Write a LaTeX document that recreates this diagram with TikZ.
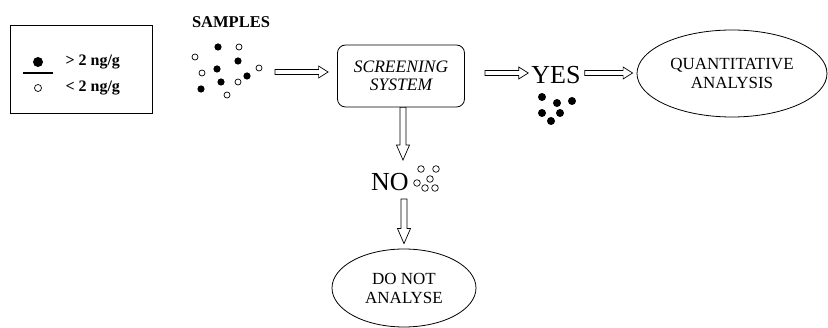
\documentclass[tikz,border=0pt]{standalone}
\usepackage{fontspec}
\setmainfont{Liberation Serif}
\usetikzlibrary{shapes,positioning,calc}

\tikzset{
  fatarrow/.style={draw, line width=0.7pt, fill=white},
  odot/.style={draw, line width=0.7pt},
  txt/.style={font=\fontsize{17}{19}\selectfont, align=center},
}

% hollow block arrows (right and down)
\newcommand{\rarrow}[2]{%
  \path[fatarrow] let \p1=(#1), \p2=(#2) in
    (\x1,\y1+2.5pt) -- (\x2-9.5pt,\y1+2.5pt) -- (\x2-9.5pt,\y1+6pt) -- (\x2,\y1)
    -- (\x2-9.5pt,\y1-6pt) -- (\x2-9.5pt,\y1-2.5pt) -- (\x1,\y1-2.5pt) -- cycle;}
\newcommand{\darrow}[2]{%
  \path[fatarrow] let \p1=(#1), \p2=(#2) in
    (\x1-3pt,\y1) -- (\x1-3pt,\y2+15pt) -- (\x1-6.5pt,\y2+15pt) -- (\x1,\y2)
    -- (\x1+6.5pt,\y2+15pt) -- (\x1+3pt,\y2+15pt) -- (\x1+3pt,\y1) -- cycle;}

\begin{document}
\begin{tikzpicture}[x=1pt,y=-1pt]
    \useasboundingbox (0,0) rectangle (828,328);

    % Legend
    \node[draw, line width=0.7pt, minimum width=142, minimum height=88] (legend) at (81,69) {};
    \fill (38,62) circle (5);
    \draw[line width=1.5pt] (23,73) -- (53,73);
    \draw[odot] (38,88) circle (3.5);
    \node[anchor=west, font=\bfseries\fontsize{16}{18}\selectfont] (above) at (62,62) {> 2 ng/g};
    \node[anchor=west, font=\bfseries\fontsize{16}{18}\selectfont] (below) at (62,88) {< 2 ng/g};

    % Samples
    \node[font=\bfseries\fontsize{16.5}{18}\selectfont] (samples) at (231,22) {SAMPLES};
    \foreach \x/\y in {218/47, 238/61, 217/69, 247/76, 221/82, 201/89}
        \fill (\x,\y) circle (3.6);
    \foreach \x/\y in {239/47, 195/57, 259/68, 202/73, 238/82, 227/95}
        \draw[odot] (\x,\y) circle (3);
    \coordinate (sampout) at (275,72);

    % Screening box and results
    \node[draw, rounded corners=8pt, line width=0.8pt, minimum width=127, minimum height=62,
          txt, font=\itshape\fontsize{17.5}{18}\selectfont] (screen) at (401,76) {SCREENING\\SYSTEM};
    \node[font=\fontsize{26}{28}\selectfont, inner sep=0pt] (yes) at (556,75) {YES};
    \node[font=\fontsize{26}{28}\selectfont, inner sep=0pt] (no) at (390,182) {NO};
    \node[draw, ellipse, line width=0.8pt, inner sep=0pt, minimum width=190, minimum height=87,
          txt] (quant) at (732,73.5) {QUANTITATIVE\\ANALYSIS};
    \node[draw, ellipse, line width=0.8pt, inner sep=0pt, minimum width=144, minimum height=78,
          txt] (dna) at (404,288) {DO NOT\\ANALYSE};

    % Positive and negative samples
    \foreach \x/\y in {542/97, 557/103, 572/101, 542/113, 560/113, 551/121}
        \fill (\x,\y) circle (4);
    \foreach \x/\y in {421/169, 436/169, 430/179, 417/183, 425/188, 435/188}
        \draw[odot] (\x,\y) circle (3.3);

    % Arrows
    \rarrow{sampout}{$(screen.west)+(-9,0)$}
    \rarrow{$(screen.east)+(20,-3)$}{$(yes.west)+(-3,0)$}
    \rarrow{$(yes.east)+(4,-2)$}{$(quant.west)+(-4,0)$}
    \darrow{$(screen.south)+(2,0)$}{$(no.north)+(0,-13)$}
    \darrow{$(no.south -| dna.north)+(0,8)$}{$(dna.north)+(0,-5)$}
\end{tikzpicture}
\end{document}
